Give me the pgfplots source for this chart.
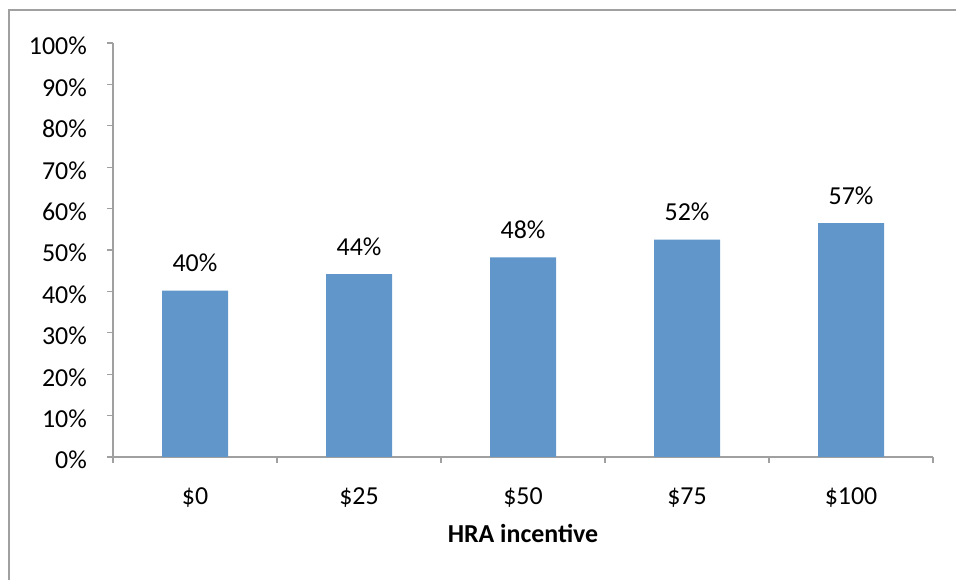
\documentclass[border=0pt]{standalone}
\usepackage{pgfplots}
\pgfplotsset{compat=1.18}
\usepackage{fontspec}
\setmainfont{Carlito}
\definecolor{barblue}{RGB}{96,150,201}
\definecolor{axgray}{RGB}{160,160,160}
\begin{document}
\fontsize{26}{30}\selectfont
\begin{tikzpicture}[x=1bp,y=1bp]
\path[use as bounding box] (0,0) rectangle (956,580);
\draw[axgray, line width=1.5bp] (9,0) -- (9,570) -- (956,570);
\begin{axis}[
  at={(113bp,123bp)}, anchor=south west,
  scale only axis, width=820bp, height=414bp,
  ymin=0, ymax=100, ytick={0,10,...,100},
  yticklabels={0\%,10\%,20\%,30\%,40\%,50\%,60\%,70\%,80\%,90\%,100\%},
  xmin=-0.5, xmax=4.5,
  xtick={-0.5,0.5,1.5,2.5,3.5,4.5}, x tick label as interval,
  xticklabels={\$0,\$25,\$50,\$75,\$100},
  axis x line*=bottom, axis y line*=left,
  axis line style={axgray, line width=1.2bp, -},
  tick align=outside, major tick length=6bp,
  tick style={draw=axgray, line width=1.2bp},
  tick label style={font=\fontsize{26}{30}\selectfont, text=black},
  y tick label style={anchor=base east, inner sep=0pt, xshift=-20bp, yshift=-12bp},
  x tick label style={anchor=base, inner sep=0pt, yshift=-42bp},
  xlabel={\textbf{HRA incentive}},
  xlabel style={at={(axis description cs:0.5,0)}, anchor=base, inner sep=0pt, yshift=-86bp, font=\fontsize{26}{30}\selectfont},
  ybar, bar width=66bp,
  nodes near coords, point meta=explicit symbolic,
  every node near coord/.append style={anchor=base, inner sep=0pt, yshift=19bp, font=\fontsize{26}{30}\selectfont, text=black},
]
\addplot[fill=barblue, draw=none] coordinates {(0,40.2) [40\%] (1,44.2) [44\%] (2,48.2) [48\%] (3,52.5) [52\%] (4,56.5) [57\%]};
\end{axis}
\end{tikzpicture}
\end{document}
